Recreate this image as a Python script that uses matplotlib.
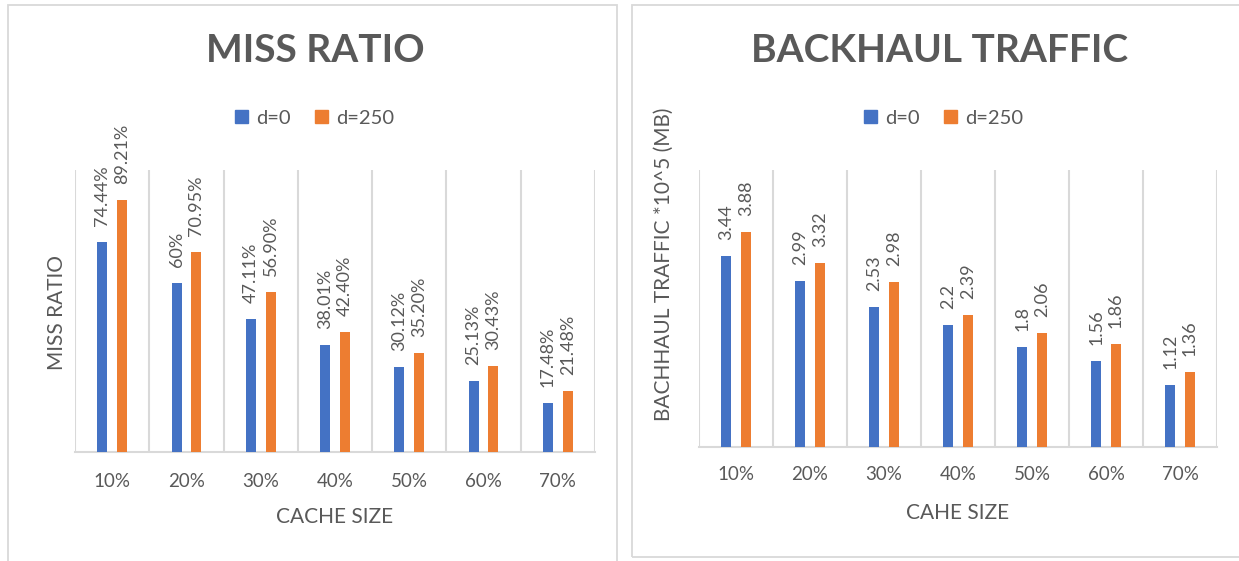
import matplotlib
matplotlib.use("Agg")
import matplotlib.pyplot as plt
from matplotlib.patches import Rectangle, Patch
import numpy as np

plt.rcParams['font.family'] = ['Lato', 'DejaVu Sans']

# ---- data ----
cache_sizes = ["10%", "20%", "30%", "40%", "50%", "60%", "70%"]
series_names = ["d=0", "d=250"]
miss_d0 = [74.44, 60.00, 47.11, 38.01, 30.12, 25.13, 17.48]
miss_d250 = [89.21, 70.95, 56.90, 42.40, 35.20, 30.43, 21.48]
miss_labels_d0 = ["74.44%", "60%", "47.11%", "38.01%", "30.12%", "25.13%", "17.48%"]
miss_labels_d250 = ["89.21%", "70.95%", "56.90%", "42.40%", "35.20%", "30.43%", "21.48%"]
traffic_d0 = [3.44, 2.99, 2.53, 2.20, 1.80, 1.56, 1.12]
traffic_d250 = [3.88, 3.32, 2.98, 2.39, 2.06, 1.86, 1.36]
traffic_labels_d0 = ["3.44", "2.99", "2.53", "2.2", "1.8", "1.56", "1.12"]
traffic_labels_d250 = ["3.88", "3.32", "2.98", "2.39", "2.06", "1.86", "1.36"]

BLUE = "#4472C4"
ORANGE = "#ED7D31"
TEXT = "#595959"
GRID = "#D9D9D9"

W, H = 1239, 561
fig = plt.figure(figsize=(W / 100, H / 100), dpi=100)
fig.patch.set_facecolor("white")


def fx(px):
    return px / W


def fy(py):
    return 1 - py / H


# panel frames
fig.patches.append(Rectangle((fx(8), fy(575)), fx(617) - fx(8), fy(5) - fy(575),
                             transform=fig.transFigure, fill=False,
                             edgecolor=GRID, lw=1.3))
fig.patches.append(Rectangle((fx(632), fy(557)), fx(1250) - fx(632), fy(5) - fy(557),
                             transform=fig.transFigure, fill=False,
                             edgecolor=GRID, lw=1.3))


def panel(rect, v0, v1, l0, l1, ymax, title, title_xy, legend_xy,
          ylabel, ylabel_xy, xlabel, xlabel_y, tick_pad):
    ax = fig.add_axes(rect)
    n = len(cache_sizes)
    x = np.arange(n)
    off, bw = 0.133, 0.135
    b0 = ax.bar(x - off, v0, bw, color=BLUE, zorder=3)
    b1 = ax.bar(x + off, v1, bw, color=ORANGE, zorder=3)
    for bars, labels in ((b0, l0), (b1, l1)):
        for rect_, lab in zip(bars, labels):
            ax.annotate(lab, (rect_.get_x() + rect_.get_width() / 2, rect_.get_height()),
                        xytext=(0, 11.5), textcoords="offset points",
                        rotation=90, ha="center", va="bottom",
                        fontsize=13, color=TEXT)
    ax.set_xlim(-0.5, n - 0.5)
    ax.set_ylim(0, ymax)
    ax.set_xticks(x)
    ax.set_xticklabels(cache_sizes, fontsize=13.5, color=TEXT)
    ax.set_xticks(np.arange(-0.5, n, 1.0), minor=True)
    ax.tick_params(axis="x", which="both", length=0, pad=tick_pad)
    ax.set_yticks([])
    ax.grid(axis="x", which="minor", color=GRID, lw=1.5, zorder=0)
    for s in ("top", "left", "right"):
        ax.spines[s].set_visible(False)
    ax.spines["bottom"].set_color(GRID)
    ax.spines["bottom"].set_linewidth(1.5)

    fig.text(fx(title_xy[0]), fy(title_xy[1]), title, ha="center", va="center",
             fontsize=28, fontweight="bold", color=TEXT)
    handles = [Patch(color=BLUE), Patch(color=ORANGE)]
    fig.legend(handles, series_names, loc="center",
               bbox_to_anchor=(fx(legend_xy[0]), fy(legend_xy[1])),
               ncol=2, frameon=False, fontsize=14.5, labelcolor=TEXT,
               handlelength=0.65, handleheight=0.65, handletextpad=0.4,
               columnspacing=1.2)
    fig.text(fx(ylabel_xy[0]), fy(ylabel_xy[1]), ylabel, rotation=90,
             ha="center", va="center", fontsize=15, color=TEXT)
    fig.text(fx((rect[0] + rect[2] / 2) * W), fy(xlabel_y), xlabel,
             ha="center", va="center", fontsize=15, color=TEXT)
    return ax


panel([fx(75), fy(452), fx(595) - fx(75), fy(170) - fy(452)],
      miss_d0, miss_d250, miss_labels_d0, miss_labels_d250, 100,
      "MISS RATIO", (315, 50), (315, 118),
      "MISS RATIO", (57, 312), "CACHE SIZE", 517, 15)

panel([fx(699), fy(447), fx(1217) - fx(699), fy(170) - fy(447)],
      traffic_d0, traffic_d250, traffic_labels_d0, traffic_labels_d250, 5,
      "BACKHAUL TRAFFIC", (940, 50), (944, 118),
      "BACHHAUL TRAFFIC *10^5 (MB)", (664, 264), "CAHE SIZE", 513, 14)

fig.savefig("out.png", dpi=100)
